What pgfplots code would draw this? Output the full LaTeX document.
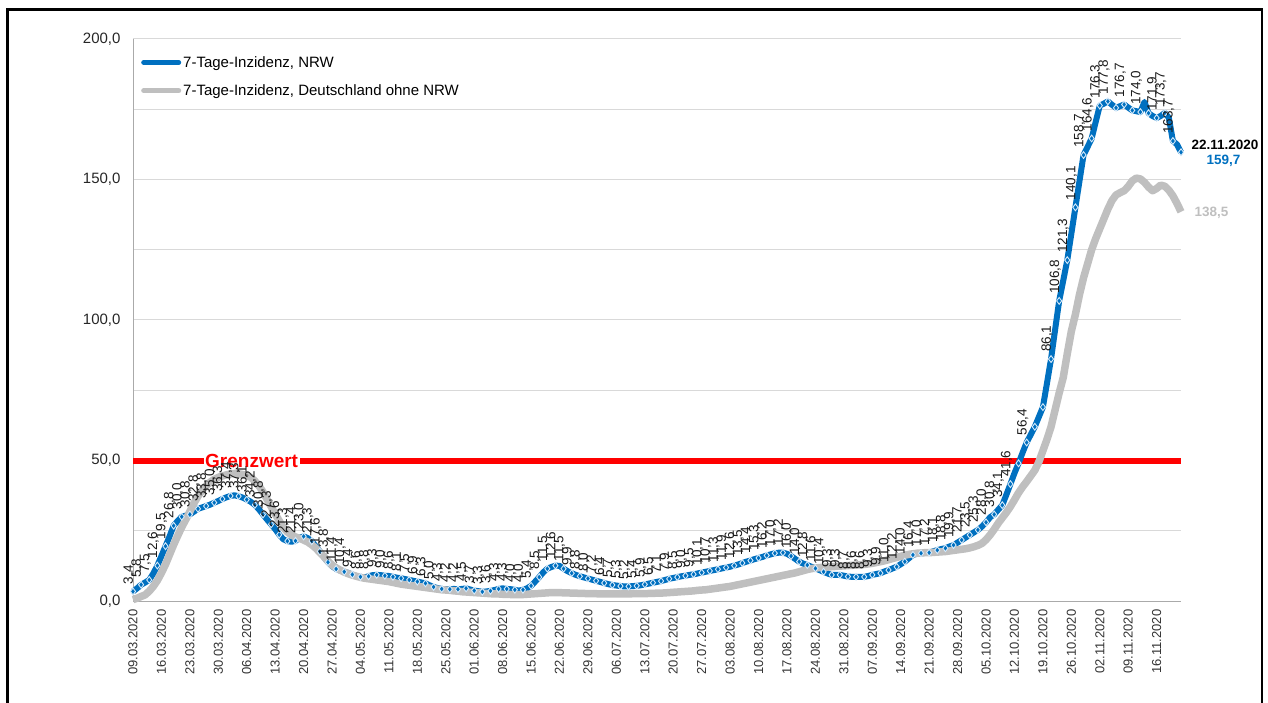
\documentclass[border=0pt]{standalone}
\usepackage{fontspec}
\setmainfont{Liberation Sans}
\usepackage{pgfplots}
\pgfplotsset{compat=1.18}
\usepackage{pgfplotstable}

\definecolor{nrwblue}{RGB}{0,112,192}
\definecolor{restgray}{RGB}{191,191,191}
\definecolor{gridgray}{RGB}{217,217,217}
\definecolor{axisgray}{RGB}{170,170,170}
\definecolor{markedge}{RGB}{215,234,250}

% d = Tage seit 09.03.2020
\pgfplotstableread{
d nrw rest
0 3.4 0.5
1 4.5 1.0
2 5.8 1.6
3 6.6 2.2
4 7.5 3.5
5 9.8 5.2
6 12.6 7.3
7 16.0 10.0
8 19.5 13.0
9 23.0 16.5
10 26.8 20.0
11 28.5 23.2
12 30.0 26.3
13 30.4 29.0
14 30.8 31.8
15 31.8 34.8
16 32.8 37.3
17 33.3 39.4
18 33.8 41.0
19 34.3 42.3
20 35.0 43.3
21 35.6 44.0
22 36.3 44.5
23 36.9 44.9
24 37.4 45.2
25 37.6 45.4
26 37.3 45.3
27 36.8 45.0
28 36.1 44.6
29 35.3 44.0
30 34.2 42.7
31 32.6 41.0
32 30.8 38.8
33 29.0 36.2
34 27.3 33.6
35 25.6 31.0
36 23.6 28.5
37 22.0 26.2
38 21.3 24.6
39 21.1 23.5
40 21.4 22.8
41 22.5 22.3
42 23.0 21.7
43 22.4 21.0
44 21.3 20.0
45 19.5 18.8
46 17.6 17.3
47 15.6 15.8
48 13.8 14.2
49 12.4 12.8
50 11.4 11.8
51 10.8 11.0
52 10.4 10.3
53 10.0 9.7
54 9.4 9.2
55 8.9 8.8
56 8.6 8.4
57 8.4 8.1
58 8.8 7.9
59 9.2 7.7
60 9.3 7.5
61 9.2 7.3
62 9.0 7.1
63 8.9 6.9
64 8.6 6.6
65 8.3 6.3
66 8.1 6.0
67 7.8 5.8
68 7.5 5.6
69 7.2 5.4
70 6.9 5.2
71 6.6 5.0
72 6.3 4.8
73 5.6 4.6
74 5.0 4.4
75 4.6 4.2
76 4.3 4.0
77 4.2 3.9
78 4.2 3.8
79 4.3 3.6
80 4.2 3.5
81 4.3 3.3
82 4.5 3.2
83 4.1 3.1
84 3.7 3.0
85 3.5 2.9
86 3.3 2.8
87 3.4 2.7
88 3.6 2.6
89 3.9 2.5
90 4.3 2.5
91 4.5 2.4
92 4.3 2.4
93 4.2 2.3
94 4.0 2.3
95 3.7 2.3
96 4.0 2.3
97 4.5 2.4
98 5.4 2.5
99 6.9 2.6
100 8.5 2.7
101 10.2 2.8
102 11.5 2.9
103 12.1 3.0
104 12.6 3.0
105 12.5 3.0
106 11.5 2.9
107 10.6 2.9
108 9.9 2.8
109 9.3 2.8
110 8.8 2.7
111 8.4 2.7
112 8.0 2.6
113 7.6 2.6
114 7.2 2.6
115 6.8 2.5
116 6.4 2.5
117 6.0 2.5
118 5.7 2.5
119 5.5 2.5
120 5.3 2.5
121 5.2 2.5
122 5.2 2.5
123 5.3 2.6
124 5.4 2.6
125 5.6 2.6
126 5.9 2.6
127 6.2 2.7
128 6.5 2.7
129 6.8 2.8
130 7.1 2.8
131 7.5 2.9
132 7.9 3.0
133 8.2 3.1
134 8.5 3.2
135 8.8 3.3
136 9.0 3.4
137 9.3 3.5
138 9.5 3.6
139 9.8 3.8
140 10.1 3.9
141 10.4 4.0
142 10.7 4.2
143 11.0 4.4
144 11.3 4.6
145 11.6 4.8
146 11.9 5.0
147 12.2 5.2
148 12.6 5.5
149 13.0 5.8
150 13.5 6.1
151 14.0 6.4
152 14.4 6.7
153 14.9 7.0
154 15.3 7.3
155 15.7 7.6
156 16.2 7.9
157 16.6 8.2
158 17.0 8.5
159 17.2 8.8
160 17.2 9.1
161 16.8 9.4
162 16.0 9.7
163 15.0 10.0
164 14.0 10.4
165 13.3 10.8
166 12.8 11.2
167 12.2 11.5
168 11.6 11.7
169 11.0 11.9
170 10.4 12.0
171 9.8 12.1
172 9.3 12.2
173 9.3 12.3
174 9.3 12.4
175 9.0 12.5
176 8.7 12.6
177 8.6 12.7
178 8.6 12.8
179 8.6 12.9
180 8.6 13.0
181 8.9 13.2
182 9.3 13.4
183 9.6 13.7
184 9.9 14.0
185 10.5 14.3
186 11.0 14.7
187 11.6 15.1
188 12.2 15.5
189 13.1 15.9
190 14.0 16.3
191 15.2 16.6
192 16.4 16.8
193 16.8 17.0
194 17.0 17.1
195 17.1 17.2
196 17.2 17.2
197 17.7 17.3
198 18.1 17.4
199 18.5 17.5
200 18.8 17.6
201 19.4 17.8
202 19.9 18.0
203 20.8 18.2
204 21.7 18.4
205 22.6 18.6
206 23.5 18.9
207 24.4 19.3
208 25.3 19.8
209 26.5 20.5
210 28.0 21.8
211 29.8 23.5
212 30.8 25.5
213 32.5 27.7
214 34.1 29.6
215 37.8 31.5
216 41.6 33.6
217 45.5 36.0
218 49.0 38.5
219 52.8 40.6
220 56.4 42.5
221 59.2 44.5
222 62.0 46.5
223 65.5 49.5
224 69.0 53.5
225 77.5 57.5
226 86.1 62.0
227 96.5 68.0
228 106.8 74.0
229 114.0 79.5
230 121.3 88.0
231 130.7 96.0
232 140.1 102.0
233 149.4 109.0
234 158.7 115.0
235 161.6 120.0
236 164.6 125.0
237 170.5 129.0
238 176.3 132.5
239 177.0 136.0
240 177.8 139.5
241 176.6 142.5
242 175.5 144.5
243 176.1 145.3
244 176.7 146.0
245 175.6 147.5
246 174.6 149.5
247 174.3 150.5
248 174.0 150.2
249 177.6 149.0
250 173.6 147.3
251 172.6 146.0
252 171.9 146.8
253 172.6 148.0
254 173.7 147.6
255 172.0 146.2
256 163.7 144.2
257 162.5 141.5
258 159.7 138.5
}\inzidenz

\begin{document}
\begin{tikzpicture}
\useasboundingbox (0,0) rectangle (1268pt,702pt);
\begin{axis}[
    at={(133pt,101pt)}, anchor=south west,
    scale only axis, width=1048pt, height=562pt,
    xmin=0, xmax=258, ymin=0, ymax=200,
    clip=false,
    axis x line*=bottom, axis y line*=left,
    axis line style={draw=axisgray, line width=1pt},
    major tick length=0pt, minor tick length=0pt,
    xtick={0,7,...,252},
    xticklabels={09.03.2020,16.03.2020,23.03.2020,30.03.2020,06.04.2020,13.04.2020,20.04.2020,27.04.2020,04.05.2020,11.05.2020,18.05.2020,25.05.2020,01.06.2020,08.06.2020,15.06.2020,22.06.2020,29.06.2020,06.07.2020,13.07.2020,20.07.2020,27.07.2020,03.08.2020,10.08.2020,17.08.2020,24.08.2020,31.08.2020,07.09.2020,14.09.2020,21.09.2020,28.09.2020,05.10.2020,12.10.2020,19.10.2020,26.10.2020,02.11.2020,09.11.2020,16.11.2020},
    xticklabel style={rotate=90, anchor=east, font=\fontsize{13}{15}\selectfont, text=black!80},
    xticklabel shift=5pt,
    ytick={0,50,...,200}, minor ytick={25,75,125,175},
    ymajorgrids, yminorgrids,
    major grid style={gridgray, line width=1pt},
    minor grid style={gridgray, line width=1pt},
    scaled y ticks=false,
    yticklabel style={font=\fontsize{15}{18}\selectfont, text=black!85,
      /pgf/number format/.cd, fixed, fixed zerofill, precision=1, use comma, assume math mode=true},
    yticklabel shift=9pt,
    legend cell align=left,
    legend style={at={(0,1)}, anchor=north west, draw=none, fill=none,
      font=\fontsize{15}{18}\selectfont, row sep=12pt, inner xsep=8pt, inner ysep=15pt},
    legend image code/.code={\draw[#1, line width=5pt, line cap=round] (0pt,0pt) -- (35pt,0pt);},
]
\addplot[red, line width=6pt, forget plot] coordinates {(0,50) (258,50)};

\addplot[nrwblue, line width=6pt, line join=round] table[x=d, y=nrw] {\inzidenz};
\addlegendentry{7-Tage-Inzidenz, NRW}
\addplot[restgray, line width=7.5pt, line join=round] table[x=d, y=rest] {\inzidenz};
\addlegendentry{7-Tage-Inzidenz, Deutschland ohne NRW}

% Rauten jeden zweiten Tag
\addplot[forget plot, only marks, mark=diamond*, mark size=3.4pt,
  mark options={fill=nrwblue, draw=markedge, line width=0.9pt},
  each nth point=2, filter discard warning=false] table[x=d, y=nrw] {\inzidenz};

% Datenbeschriftungen (jeder zweite Tag, einige ausgelassen)
\addplot[forget plot, only marks, mark=*, mark size=0pt, mark options={draw=none, fill=none},
  x filter/.expression={(abs(x/2-round(x/2))<0.1 && abs(x-218)>0.5 && abs(x-222)>0.5 && abs(x-224)>0.5 && abs(x-242)>0.5 && abs(x-246)>0.5 && abs(x-250)>0.5 && abs(x-258)>0.5) ? x : nan},
  nodes near coords={\pgfmathprintnumber[fixed, fixed zerofill, precision=1, use comma, assume math mode=true]{\pgfplotspointmeta}},
  every node near coord/.append style={xshift=-4pt, rotate=90, anchor=west, text=black!90,
    font=\fontsize{13.5}{15}\selectfont, inner xsep=7pt, inner ysep=1pt}]
  table[x=d, y=nrw] {\inzidenz};

\node[fill=white, inner sep=1.5pt, text=red, font=\bfseries\fontsize{19}{22}\selectfont]
  at (axis cs:29.2,50) {Grenzwert};
\end{axis}

\node[anchor=west, font=\bfseries\fontsize{13.5}{16}\selectfont] at (1188pt,557pt) {22.11.2020};
\node[text=nrwblue, font=\bfseries\fontsize{13.5}{16}\selectfont] at (1223.5pt,541pt) {159,7};
\node[text=restgray, font=\bfseries\fontsize{13.5}{16}\selectfont] at (1211.5pt,489pt) {138,5};

\draw[line width=2.7pt] (7.3pt,-10pt) -- (7.3pt,692.3pt) -- (1262pt,692.3pt) -- (1262pt,-10pt);
\end{tikzpicture}
\end{document}
